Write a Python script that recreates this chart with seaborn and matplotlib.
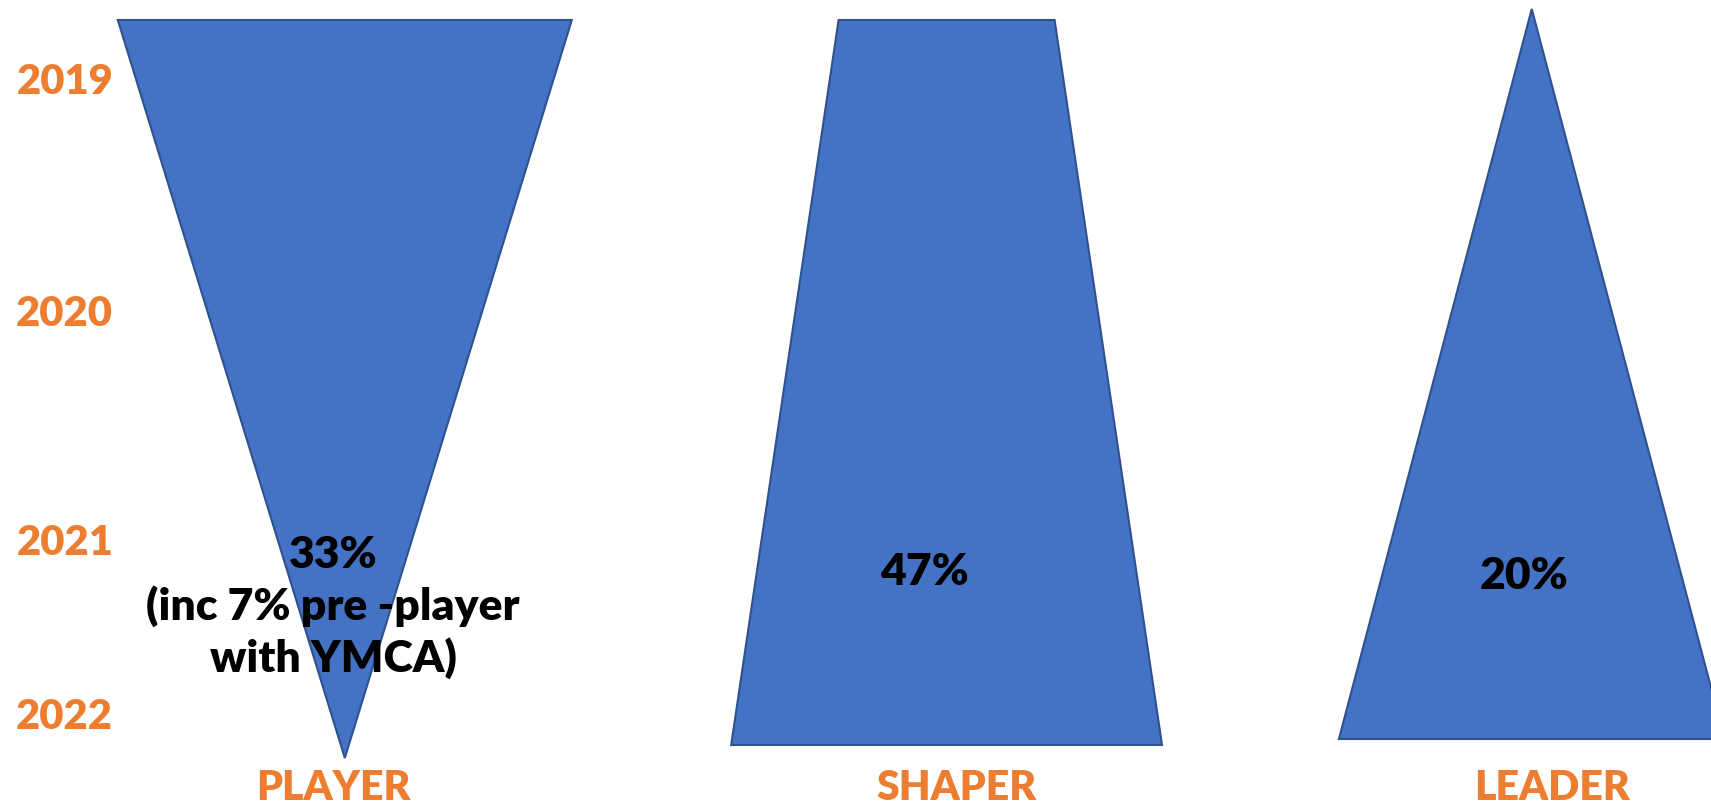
import seaborn as sns
import matplotlib.pyplot as plt

# data
categories = ["PLAYER", "SHAPER", "LEADER"]
shares = ["33%\n(inc 7% pre -player\nwith YMCA)", "47%", "20%"]
years = ["2019", "2020", "2021", "2022"]
# relative width of each shape at the top (2019) and bottom (2022)
width_top = [0.765, 0.364, 0.0]
width_bottom = [0.0, 0.726, 0.650]

# layout (pixel rows of the figure, 0 = top)
shape_top = [20, 20, 9]
shape_bottom = [758, 745, 739]
year_rows = [82, 314, 543, 717]
share_rows = [607, 572, 576]
share_shift = [-0.02, -0.024, -0.013]
label_shift = [-0.019, 0.031, 0.035]
label_row = 788

ORANGE = "#ED7D31"
FILL = "#4472C4"
EDGE = "#2F528F"


def main():
    sns.set_theme(style="white")
    plt.rcParams["font.family"] = ["Lato", "DejaVu Sans"]

    fig = plt.figure(figsize=(17.11, 8.08), dpi=100)
    ax = fig.add_axes([0, 0, 1, 1])
    ax.set_xlim(-0.581, 2.302)
    ax.set_ylim(808, 0)
    ax.axis("off")

    for i, cat in enumerate(categories):
        x = i + (0.014 if i == 1 else 0.0)
        wt, wb = width_top[i] / 2, width_bottom[i] / 2
        xs = [x - wt, x + wt, x + wb, x - wb]
        ys = [shape_top[i], shape_top[i], shape_bottom[i], shape_bottom[i]]
        ax.fill(xs, ys, facecolor=FILL, edgecolor=EDGE, linewidth=1.5)
        ax.text(i + share_shift[i], share_rows[i], shares[i], ha="center",
                va="center", fontsize=32, fontweight="heavy", color="black",
                linespacing=1.3)
        ax.text(i + label_shift[i], label_row, cat,
                ha="center", va="center", fontsize=29.5, fontweight="heavy",
                color=ORANGE)

    for yr, row in zip(years, year_rows):
        ax.text(-0.472, row, yr, ha="center", va="center", fontsize=30,
                fontweight="heavy", color=ORANGE)

    fig.savefig("out.png", dpi=100)


if __name__ == "__main__":
    main()
